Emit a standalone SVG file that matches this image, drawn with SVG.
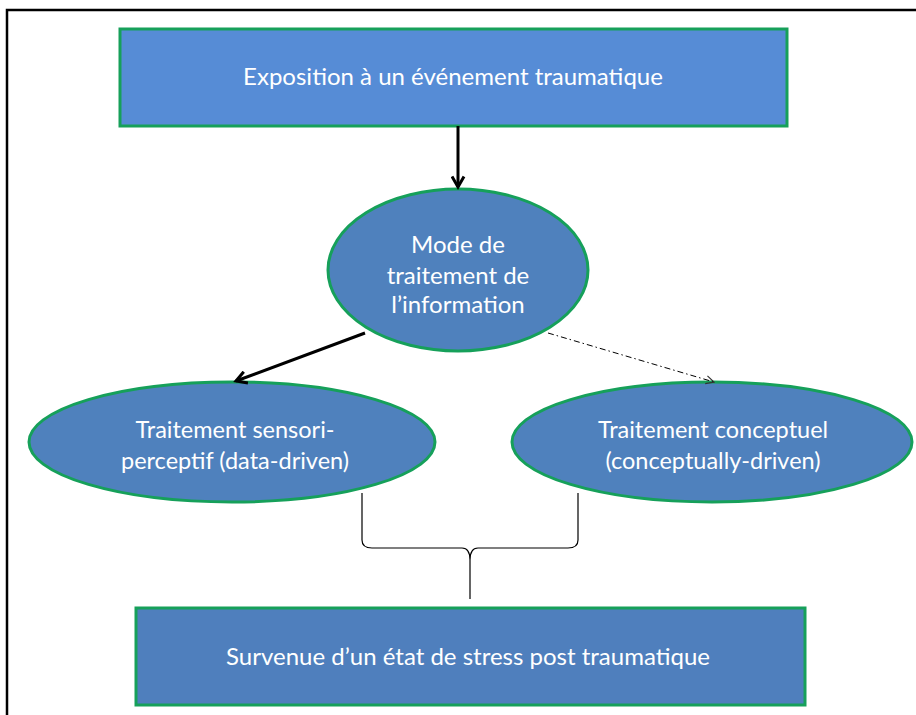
<svg xmlns="http://www.w3.org/2000/svg" width="916" height="715" viewBox="0 0 916 715">
  <style>
    .box { stroke: #16a05a; stroke-width: 3; }
    .oval { fill: #4f81bd; stroke: #16a05a; stroke-width: 3; }
    .label { font-family: Lato, "Open Sans", "Liberation Sans", sans-serif; fill: #ffffff; text-anchor: middle; }
    .conn { fill: none; stroke: #000000; }
  </style>
  <defs>
    <marker id="arrowSolid" viewBox="0 0 10 10" refX="8" refY="5" markerWidth="5" markerHeight="5" orient="auto">
      <path d="M1,1 L8,5 L1,9" fill="none" stroke="#000" stroke-width="2"/>
    </marker>
    <marker id="arrowOpen" viewBox="0 0 10 10" refX="9" refY="5" markerWidth="10" markerHeight="10" orient="auto" markerUnits="userSpaceOnUse">
      <path d="M1,1 L9,5 L1,9" fill="none" stroke="#333" stroke-width="1.2"/>
    </marker>
  </defs>

  <rect width="916" height="715" fill="#ffffff"/>
  <!-- frame -->
  <path d="M7,715 V10 H916" fill="none" stroke="#000" stroke-width="2.5"/>

  <g id="exposition">
    <rect class="box" x="120" y="29" width="667" height="97" fill="#568cd6"/>
    <text class="label" x="453" y="85" font-size="24">Exposition à un événement traumatique</text>
  </g>

  <g id="mode-traitement">
    <ellipse class="oval" cx="458" cy="270" rx="130" ry="81"/>
    <text class="label" x="458" y="253" font-size="24">Mode de</text>
    <text class="label" x="458" y="284" font-size="24">traitement de</text>
    <text class="label" x="458" y="313" font-size="24">l’information</text>
  </g>

  <g id="sensori-perceptif">
    <ellipse class="oval" cx="232" cy="442" rx="203" ry="60"/>
    <text class="label" x="235" y="438" font-size="23.5">Traitement sensori-</text>
    <text class="label" x="235" y="469" font-size="23.5">perceptif (data-driven)</text>
  </g>

  <g id="conceptuel">
    <ellipse class="oval" cx="712" cy="442" rx="200" ry="60"/>
    <text class="label" x="713" y="438" font-size="23.5">Traitement conceptuel</text>
    <text class="label" x="713" y="469" font-size="23.5">(conceptually-driven)</text>
  </g>

  <g id="stress-post-traumatique">
    <rect class="box" x="136" y="608" width="669" height="97" fill="#4f7fbd"/>
    <text class="label" x="468" y="665" font-size="24">Survenue d’un état de stress post traumatique</text>
  </g>

  <g id="connectors">
    <line class="conn" x1="458" y1="126" x2="458" y2="187" stroke-width="3" marker-end="url(#arrowSolid)"/>
    <line class="conn" x1="365" y1="333" x2="236" y2="381" stroke-width="3" marker-end="url(#arrowSolid)"/>
    <line class="conn" x1="548" y1="333" x2="714" y2="382" stroke="#444" stroke-width="1" stroke-dasharray="6 3 1.5 3" marker-end="url(#arrowOpen)"/>
    <!-- brace gathering both processing modes -->
    <path class="conn" d="M362,493 V540 Q362,548 372,548 H462 Q470,548 470,560 V599 M470,599 V560 Q470,548 478,548 H568 Q578,548 578,540 V493" stroke="#333" stroke-width="1.2"/>
  </g>
</svg>
